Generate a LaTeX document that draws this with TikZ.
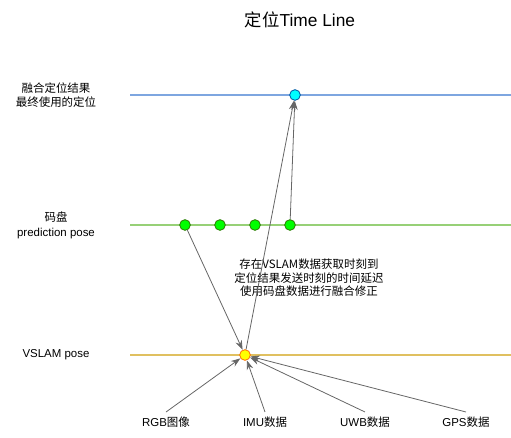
\documentclass[tikz,border=0pt]{standalone}
\usepackage{fontspec}
\setmainfont{Liberation Sans}
\newfontfamily\cjk{Noto Sans CJK SC}
\usetikzlibrary{positioning,arrows.meta}
\definecolor{fuseline}{HTML}{7EA6E0}
\definecolor{odoline}{HTML}{97D077}
\definecolor{vsline}{HTML}{E0C060}
\definecolor{arrowgray}{HTML}{666666}
\definecolor{fusefill}{HTML}{00FFFF}
\definecolor{fusedraw}{HTML}{0050A0}
\definecolor{odofill}{HTML}{00FF00}
\definecolor{ododraw}{HTML}{2D7600}
\definecolor{vsfill}{HTML}{FFFF00}
\definecolor{vsdraw}{HTML}{FF6A00}
\begin{document}
\begin{tikzpicture}[
    x=0.75pt, y=-0.75pt,
    lane/.style={line width=1.5pt},
    dot/.style={circle, draw, inner sep=0pt, minimum size=8pt, line width=0.6pt},
    lbl/.style={align=center, font=\fontsize{8.6pt}{11pt}\selectfont},
    arrow/.style={-{Stealth[length=7pt,width=5pt]}, arrowgray, line width=0.6pt}
]
\useasboundingbox (0,0) rectangle (511,438);

% title
\node[font=\fontsize{13pt}{15pt}\selectfont] (title) at (300,20) {{\cjk 定位}Time Line};

% time lines
\draw[lane, fuseline] (130,95) -- (511,95);
\draw[lane, odoline]  (130,225) -- (511,225);
\draw[lane, vsline]   (130,355) -- (511,355);

% lane labels
\node[lbl] (lfuse) at (56,95)  {\cjk 融合定位结果\\\cjk 最终使用的定位};
\node[lbl] (lodo)  at (56,225) {\cjk 码盘\\prediction pose};
\node[lbl] (lvs)   at (56,355) {VSLAM pose};

% points
\node[dot, draw=fusedraw, fill=fusefill] (fuse) at (295,95)  {};
\node[dot, draw=ododraw, fill=odofill]   (odo1) at (185,225) {};
\node[dot, draw=ododraw, fill=odofill]   (odo2) at (220,225) {};
\node[dot, draw=ododraw, fill=odofill]   (odo3) at (255,225) {};
\node[dot, draw=ododraw, fill=odofill]   (odo4) at (290,225) {};
\node[dot, draw=vsdraw, fill=vsfill]     (vs)   at (245,355) {};

% sensor inputs
\node[lbl] (rgb) at (166,422) {RGB{\cjk 图像}};
\node[lbl] (imu) at (265,422) {IMU{\cjk 数据}};
\node[lbl] (uwb) at (365,422) {UWB{\cjk 数据}};
\node[lbl] (gps) at (466,422) {GPS{\cjk 数据}};

% note
\node[lbl, font=\cjk\fontsize{8.6pt}{10.2pt}\selectfont] (note) at (309,278)
    {存在VSLAM数据获取时刻到\\定位结果发送时刻的时间延迟\\使用码盘数据进行融合修正};

\draw[arrow] (odo1) -- (vs);
\draw[arrow] (vs) -- (fuse);
\draw[arrow] (odo4) -- (fuse);
\draw[arrow] (rgb.north) -- (vs);
\draw[arrow] (imu.north) -- (vs);
\draw[arrow] (uwb.north) -- (vs);
\draw[arrow] (gps.north) -- (vs);
\end{tikzpicture}
\end{document}
